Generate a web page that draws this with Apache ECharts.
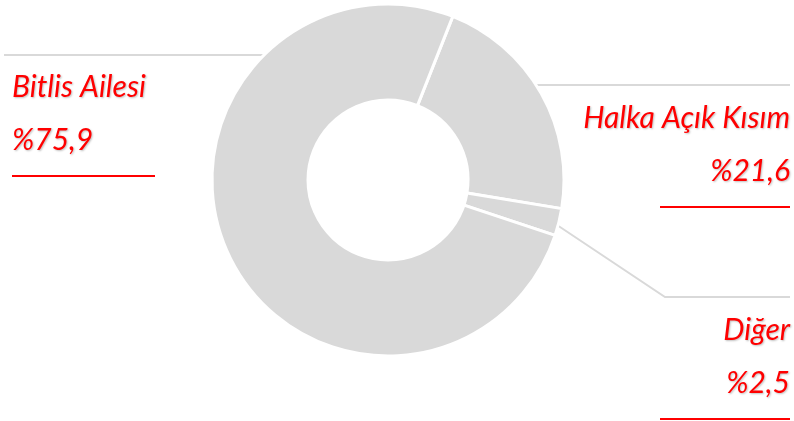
<!DOCTYPE html>
<html><head><meta charset="utf-8">
<script src="https://cdn.jsdelivr.net/npm/echarts@6/dist/echarts.min.js"></script>
<style>html,body{margin:0;padding:0;background:#fff}#c{width:794px;height:421px}</style>
</head><body><div id="c"></div>
<script>
const categories = ['Halka Açık Kısım', 'Diğer', 'Bitlis Ailesi'];
const values = [21.6, 2.5, 75.9];
const valueLabels = ['%21,6', '%2,5', '%75,9'];

const chart = echarts.init(document.getElementById('c'), null, {renderer: 'canvas'});
const cx = 388, cy = 180, R = 176;
// label layout settings per category (decorative placement)
const layouts = {
  'Bitlis Ailesi': {x: 12, y: 69, align: 'left', pts: [[265, 55], [4, 55], [4, 55]], uw: 143},
  'Halka Açık Kısım': {x: 790, y: 100, align: 'right', pts: [[537, 85], [790, 85], [790, 85]], uw: 130},
  'Diğer': {x: 790, y: 312, align: 'right', pts: [[557, 225], [665, 297], [790, 297]], uw: 130}
};
const red = '#ff0000';
const txt = {fontFamily: 'Lato', fontStyle: 'italic', fontSize: 30, color: red,
  textShadowColor: 'rgba(0,0,0,0.25)', textShadowBlur: 2, textShadowOffsetX: 1, textShadowOffsetY: 1};

chart.setOption({
  animation: false,
  series: [{
    type: 'pie',
    center: [cx, cy],
    radius: [80, R],
    startAngle: 90 - values[0],
    clockwise: true,
    avoidLabelOverlap: false,
    itemStyle: {color: '#d9d9d9', borderColor: '#ffffff', borderWidth: 3},
    emphasis: {disabled: true},
    label: {
      show: true,
      position: 'outside',
      formatter: p => '{n|' + p.name + '}\n{v|' + valueLabels[p.dataIndex] + '}\n{u' + p.dataIndex + '| }',
      rich: {
        n: Object.assign({}, txt, {lineHeight: 36}),
        v: Object.assign({}, txt, {lineHeight: 70}),
        u0: {width: layouts['Halka Açık Kısım'].uw, height: 2, lineHeight: 2, backgroundColor: red, fontSize: 2},
        u1: {width: layouts['Diğer'].uw, height: 2, lineHeight: 2, backgroundColor: red, fontSize: 2},
        u2: {width: layouts['Bitlis Ailesi'].uw, height: 2, lineHeight: 2, backgroundColor: red, fontSize: 2}
      }
    },
    labelLine: {show: true, lineStyle: {color: '#d9d9d9', width: 2}},
    labelLayout: function (params) {
      const name = categories[params.dataIndex];
      const L = layouts[name];
      return {x: L.x, y: L.y, align: L.align, verticalAlign: 'top', labelLinePoints: L.pts};
    },
    data: categories.map((c, i) => ({name: c, value: values[i]}))
  }]
});
</script></body></html>
